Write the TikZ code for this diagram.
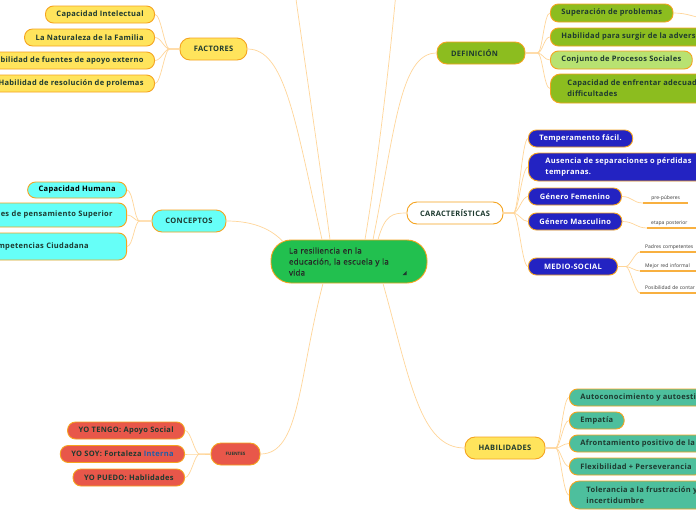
\documentclass[tikz,border=0pt]{standalone}
\usepackage{fontspec}
\setmainfont{Open Sans}
\newfontfamily\boxfont{Open Sans}[LetterSpace=4]
\newfontfamily\centerfont{Open Sans}[LetterSpace=3, FakeBold=0.4]
\definecolor{bord}{HTML}{F5A31E}
\definecolor{connc}{HTML}{FFD699}
\definecolor{ulc}{HTML}{F8B040}
\definecolor{txt}{HTML}{1E3A30}
\definecolor{subtxt}{HTML}{3A3A3A}
\definecolor{greenc}{HTML}{22C04F}
\definecolor{yellowc}{HTML}{FFE45C}
\definecolor{cyanc}{HTML}{66FFF8}
\definecolor{redc}{HTML}{E8574A}
\definecolor{olivec}{HTML}{8CBD1F}
\definecolor{lightolive}{HTML}{B8E271}
\definecolor{bluec}{HTML}{2323C2}
\definecolor{tealc}{HTML}{4DBF9D}
\definecolor{intblue}{HTML}{1F5FA8}
\tikzset{
  box/.style={draw=bord, line width=0.9pt, text=txt, font=\boxfont\bfseries\fontsize{7.5}{11}\selectfont,
    inner xsep=11pt, inner ysep=0pt, minimum height=17pt, rounded corners=8pt},
  topic/.style={box, minimum height=22pt, rounded corners=10pt},
  two/.style={box, minimum height=28pt, align=left, inner xsep=17pt, rounded corners=10pt},
  conn/.style={draw=connc, line width=0.7pt},
  uline/.style={draw=ulc, line width=1.3pt},
  subitem/.style={font=\fontsize{5}{6}\selectfont, text=subtxt, inner xsep=5pt, inner ysep=2.5pt,
    anchor=south west, align=left},
  yel/.style={fill=yellowc},
  cya/.style={fill=cyanc},
  red/.style={fill=redc},
  oli/.style={fill=olivec},
  blu/.style={fill=bluec, text=white},
  tea/.style={fill=tealc},
}
\begin{document}
\begin{tikzpicture}[x=1pt,y=-1pt]
\useasboundingbox (0,0) rectangle (696,520);
\fill[white] (0,0) rectangle (696,520);
\clip (0,0) rectangle (696,520);

% central node
\node[box, fill=greenc, minimum width=156pt, minimum height=43pt, rounded corners=20pt,
  font=\centerfont\fontsize{8}{11}\selectfont, text=black!85, align=left, text width=120pt, inner xsep=18pt] (c) at (349,261.5)
  {La resiliencia en la\\educación, la escuela y la\\vida};
\fill[txt] (402.5,275) -- (406.5,275) -- (406.5,271) -- cycle;

% FACTORES
\node[topic, yel, minimum width=67pt] (fac) at (213.5,49) {FACTORES};
\node[box, yel, anchor=east] (f1) at (155,14.5) {Capacidad Intelectual};
\node[box, yel, anchor=east] (f2) at (155,37.5) {La Naturaleza de la Familia};
\node[box, yel, anchor=east] (f3) at (155,60.5) {Disponibilidad de fuentes de apoyo externo};
\node[box, yel, anchor=east] (f4) at (155,83.5) {Habilidad de resolución de prolemas};

% CONCEPTOS
\node[topic, cya, minimum width=74pt] (con) at (189,221) {CONCEPTOS};
\node[box, cya, anchor=east, minimum height=16pt, text=black] (k1) at (127,190) {Capacidad Humana};
\node[box, cya, anchor=east, minimum height=24pt, align=right, text width=180pt, inner xsep=14pt] (k2) at (127,215)
  {Habilidades de pensamiento Superior};
\node[box, cya, anchor=east, minimum height=27pt, align=left, text width=126pt, inner xsep=13pt] (k3) at (127,246.5)
  {Competencias Ciudadana};

% FUENTES
\node[topic, red, minimum width=49pt, font=\bfseries\fontsize{4.5}{5}\selectfont] (fue) at (235.5,454) {FUENTES};
\node[box, red, anchor=east] (s1) at (185,430.5) {YO TENGO: Apoyo Social};
\node[box, red, anchor=east] (s2) at (185,454) {YO SOY: Fortaleza \textcolor{intblue}{Interna}};
\node[box, red, anchor=east] (s3) at (185,477.5) {YO PUEDO: Hablidades};

% DEFINICION
\node[topic, oli, align=left, text width=60pt, inner xsep=14pt] (def) at (481,53) {DEFINICIÓN};
\node[box, oli, anchor=west, minimum height=18pt] (d1) at (550,13) {Superación de problemas};
\node[box, oli, anchor=west, minimum height=18pt] (d2) at (550,37) {Habilidad para surgir de la adversidad};
\node[box, fill=lightolive, anchor=west, minimum height=18pt] (d3) at (550,60) {Conjunto de Procesos Sociales};
\node[two, oli, anchor=west, minimum height=29pt] (d4) at (550,88.5)
  {Capacidad de enfrentar adecuadamente las\\difficultades};

% CARACTERISTICAS
\node[topic, fill=white, minimum width=96pt] (car) at (455,213) {CARACTERÍSTICAS};
\node[box, blu, anchor=west] (ch1) at (528,138.5) {Temperamento fácil.};
\node[two, blu, anchor=west] (ch2) at (528,167) {Ausencia de separaciones o pérdidas\\tempranas.};
\node[box, blu, anchor=west, minimum width=93pt] (ch3) at (528,196.5) {Género Femenino};
\node[box, blu, anchor=west, minimum width=93pt] (ch4) at (528,221.5) {Género Masculino};
\node[box, blu, anchor=west, minimum width=89pt] (ch5) at (528,266.5) {MEDIO-SOCIAL};

\node[subitem, minimum width=45pt, inner xsep=6pt] (pf) at (643,203) {pre-púberes};
\node[subitem, text width=56pt, inner xsep=4pt] (ep) at (647,228) {etapa posterior};
\node[subitem, text width=90pt] (m1) at (640,252) {Padres competentes};
\node[subitem, text width=90pt] (m2) at (640,271) {Mejor red informal};
\node[subitem, text width=90pt] (m3) at (640,293) {Posibilidad de contar con apoyo};

% HABILIDADES
\node[topic, yel, minimum width=80pt] (hab) at (505,448) {HABILIDADES};
\node[box, tea, anchor=west] (h1) at (569,397.5) {Autoconocimiento y autoestima};
\node[box, tea, anchor=west] (h2) at (569,420.5) {Empatía};
\node[box, tea, anchor=west] (h3) at (569,443.5) {Afrontamiento positivo de la adversidad};
\node[box, tea, anchor=west] (h4) at (569,466.5) {Flexibilidad + Perseverancia};
\node[two, tea, anchor=west] (h5) at (569,495) {Tolerancia a la frustración y la\\incertidumbre};

% off-frame ends
\coordinate (topA) at (292,-30);
\coordinate (topB) at (398,-30);
\coordinate (offR) at (712,20);

% main connectors
\draw[conn] ([xshift=-27pt]c.north) .. controls (295,120) and (285,49) .. (fac.east);
\draw[conn] ([xshift=-19pt]c.north) .. controls (318,150) and (300,30) .. (topA);
\draw[conn] ([xshift=16pt]c.north) .. controls (380,150) and (392,40) .. (topB);
\draw[conn] ([xshift=24pt]c.north) .. controls (395,130) and (400,53) .. (def.west);
\draw[conn] ([xshift=29pt]c.north) .. controls (385,215) and (392,213) .. (car.west);
\draw[conn] (con.east) .. controls (255,221) and (272,230) .. ([xshift=-66pt,yshift=-2pt]c.north);
\draw[conn] ([xshift=-26pt]c.south) .. controls (298,380) and (300,454) .. (fue.east);
\draw[conn] ([xshift=34pt]c.south) .. controls (410,380) and (420,448) .. (hab.west);

% branch connectors
\foreach \n in {f1,f2,f3,f4}
  \draw[conn] (fac.west) -- ++(-10,0) .. controls +(-5,0) and +(6,0) .. (\n.east);
\foreach \n in {k1,k2,k3}
  \draw[conn] (con.west) -- ++(-12,0) .. controls +(-5,0) and +(6,0) .. (\n.east);
\foreach \n in {s1,s2,s3}
  \draw[conn] (fue.west) -- ++(-11,0) .. controls +(-5,0) and +(6,0) .. (\n.east);
\foreach \n in {d1,d2,d3,d4}
  \draw[conn] (def.east) -- ++(12,0) .. controls +(5,0) and +(-6,0) .. (\n.west);
\foreach \n in {ch1,ch2,ch3,ch4,ch5}
  \draw[conn] (car.east) -- ++(10,0) .. controls +(5,0) and +(-6,0) .. (\n.west);
\foreach \n in {h1,h2,h3,h4,h5}
  \draw[conn] (hab.east) -- ++(10,0) .. controls +(5,0) and +(-6,0) .. (\n.west);

\draw[conn] (d1.east) .. controls (688,13) and (692,17) .. (offR);
\draw[conn] (ch3.east) .. controls (632,196.5) and (633,203) .. (pf.south west);
\draw[conn] (ch4.east) .. controls (634,221.5) and (636,228) .. (ep.south west);
\foreach \n in {m1,m2,m3}
  \draw[conn] (ch5.east) -- ++(8,0) .. controls +(4,0) and +(-5,0) .. (\n.south west);
\foreach \n in {pf,ep,m1,m2,m3}
  \draw[uline] (\n.south west) -- (\n.south east);
\end{tikzpicture}
\end{document}
